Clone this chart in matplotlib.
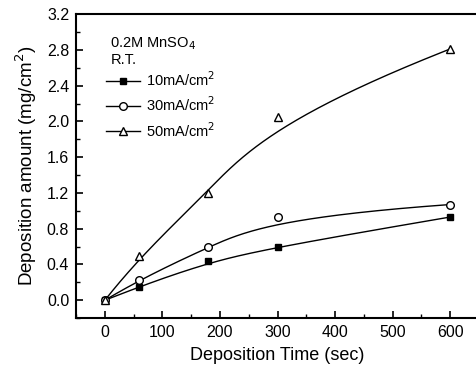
import numpy as np
import matplotlib
matplotlib.use('Agg')
from matplotlib import pyplot as plt
from matplotlib.ticker import MultipleLocator, FormatStrFormatter

plt.rcParams['font.family'] = ['Liberation Sans', 'DejaVu Sans']

time = [0, 60, 180, 300, 600]
amt_10 = [0.0, 0.15, 0.44, 0.60, 0.93]
amt_30 = [0.0, 0.23, 0.60, 0.93, 1.07]
amt_50 = [0.0, 0.49, 1.20, 2.05, 2.81]
labels = ['10mA/cm$^2$', '30mA/cm$^2$', '50mA/cm$^2$']


def bspline(xs, ys, k=3, n=300):
    # clamped B-spline with the data points as control points
    pts = np.column_stack([xs, ys]).astype(float)
    m = len(pts)
    inner = np.linspace(0, 1, m - k + 1)[1:-1]
    t = np.concatenate([np.zeros(k + 1), inner, np.ones(k + 1)])
    u = np.linspace(0, 1, n)
    u[-1] = 1 - 1e-9

    def basis(i, p, u):
        if p == 0:
            return ((t[i] <= u) & (u < t[i + 1])).astype(float)
        a = 0.0
        b = 0.0
        if t[i + p] != t[i]:
            a = (u - t[i]) / (t[i + p] - t[i]) * basis(i, p - 1, u)
        if t[i + p + 1] != t[i + 1]:
            b = (t[i + p + 1] - u) / (t[i + p + 1] - t[i + 1]) * basis(i + 1, p - 1, u)
        return a + b

    B = np.array([basis(i, k, u) for i in range(m)])
    c = B.T @ pts
    return c[:, 0], c[:, 1]


fig = plt.figure(figsize=(4.76, 3.72), dpi=100)
ax = fig.add_axes([0.160, 0.145, 0.846, 0.817])

styles = [dict(marker='s', mfc='black', ms=5),
          dict(marker='o', mfc='white', ms=5.5),
          dict(marker='^', mfc='white', ms=6)]
for ys, lab, st in zip([amt_10, amt_30, amt_50], labels, styles):
    bx, by = bspline(time, ys)
    ax.plot(bx, by, color='black', lw=1.0)
    ax.plot(time, ys, ls='none', mec='black', mew=1.0, color='black', **st)
    ax.plot([], [], color='black', lw=1.0, label=lab, **st)

ax.set_xlim(-50, 650)
ax.set_ylim(-0.2, 3.2)
ax.xaxis.set_major_locator(MultipleLocator(100))
ax.xaxis.set_minor_locator(MultipleLocator(50))
ax.yaxis.set_major_locator(MultipleLocator(0.4))
ax.yaxis.set_minor_locator(MultipleLocator(0.2))
ax.yaxis.set_major_formatter(FormatStrFormatter('%.1f'))
ax.tick_params(which='both', direction='in', top=False, right=False, labelsize=11.5)
ax.tick_params(which='major', length=5, width=1.2, pad=5)
ax.tick_params(which='minor', length=3, width=1.0)
for s in ax.spines.values():
    s.set_linewidth(1.5)

ax.set_xlabel('Deposition Time (sec)', fontsize=13, labelpad=5)
ax.set_ylabel('Deposition amount (mg/cm$^2$)', fontsize=13.5, labelpad=6)

ax.text(0.085, 0.89, '0.2M MnSO$_4$', transform=ax.transAxes, fontsize=10.5)
ax.text(0.085, 0.835, 'R.T.', transform=ax.transAxes, fontsize=10.5)
ax.legend(loc='upper left', bbox_to_anchor=(0.075, 0.815), frameon=False,
          fontsize=10.5, handlelength=2.3, handletextpad=0.4, labelspacing=0.45,
          borderaxespad=0, borderpad=0)

fig.savefig('out.png', dpi=100)
